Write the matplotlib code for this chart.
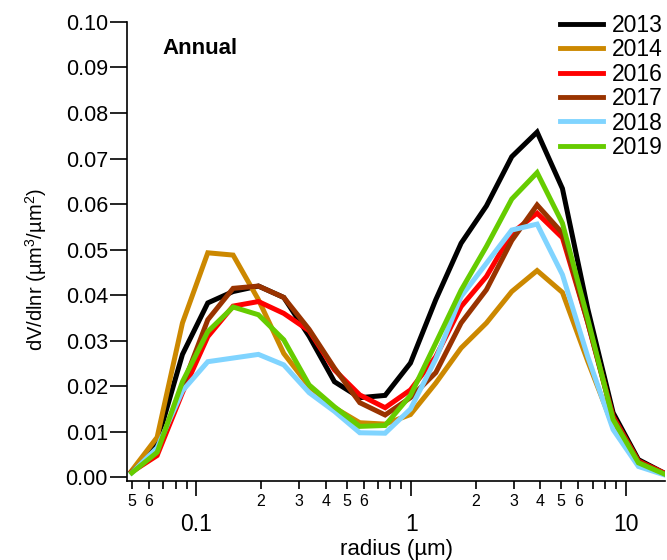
import numpy as np
import matplotlib
matplotlib.use("Agg")
import matplotlib.pyplot as plt
from matplotlib.ticker import FixedLocator, FixedFormatter

plt.rcParams['font.family'] = ['Liberation Sans', 'DejaVu Sans']
plt.rcParams['mathtext.fontset'] = 'custom'
plt.rcParams['mathtext.rm'] = 'Liberation Sans'
plt.rcParams['mathtext.it'] = 'Liberation Sans:italic'

radius = [0.05, 0.065604, 0.086077, 0.112939, 0.148184, 0.194429, 0.255105,
          0.334716, 0.439173, 0.576227, 0.756052, 0.991996, 1.301571, 1.707757,
          2.240702, 2.939966, 3.857452, 5.061260, 6.640745, 8.713145,
          11.432287, 15.0]

y2013 = [0.0013, 0.0078, 0.0270, 0.0383, 0.0408, 0.0420, 0.0395, 0.0310,
         0.0210, 0.0175, 0.0180, 0.0251, 0.0390, 0.0514, 0.0596, 0.0704,
         0.0758, 0.0634, 0.0370, 0.0142, 0.0039, 0.0010]
y2014 = [0.0015, 0.0088, 0.0339, 0.0493, 0.0488, 0.0390, 0.0272, 0.0200,
         0.0153, 0.0120, 0.0117, 0.0138, 0.0207, 0.0284, 0.0339, 0.0408,
         0.0454, 0.0406, 0.0255, 0.0112, 0.0028, 0.0008]
y2016 = [0.0012, 0.0048, 0.0186, 0.0309, 0.0376, 0.0386, 0.0360, 0.0322,
         0.0236, 0.0181, 0.0153, 0.0192, 0.0265, 0.0375, 0.0441, 0.0536,
         0.0580, 0.0526, 0.0340, 0.0134, 0.0036, 0.0010]
y2017 = [0.0012, 0.0060, 0.0200, 0.0346, 0.0415, 0.0420, 0.0395, 0.0325,
         0.0240, 0.0164, 0.0137, 0.0175, 0.0230, 0.0339, 0.0412, 0.0520,
         0.0598, 0.0536, 0.0340, 0.0130, 0.0034, 0.0008]
y2018 = [0.0010, 0.0065, 0.0190, 0.0254, 0.0262, 0.0270, 0.0247, 0.0186,
         0.0145, 0.0098, 0.0097, 0.0150, 0.0260, 0.0397, 0.0470, 0.0543,
         0.0556, 0.0445, 0.0265, 0.0105, 0.0024, 0.0006]
y2019 = [0.0010, 0.0055, 0.0210, 0.0320, 0.0374, 0.0357, 0.0302, 0.0203,
         0.0155, 0.0112, 0.0114, 0.0180, 0.0295, 0.0411, 0.0507, 0.0611,
         0.0669, 0.0558, 0.0348, 0.0127, 0.0032, 0.0008]

years = ['2013', '2014', '2016', '2017', '2018', '2019']
series = [y2013, y2014, y2016, y2017, y2018, y2019]
colors = ['#000000', '#CC8800', '#FF0000', '#993300', '#80D4FF', '#66CC00']

fig = plt.figure(figsize=(6.67, 5.6), dpi=100)
ax = fig.add_axes([0.191, 0.141, 0.806, 0.820])

for yr, ys, c in zip(years, series, colors):
    ax.plot(radius, ys, color=c, lw=3.6, label=yr, solid_joinstyle='miter')

ax.set_xscale('log')
ax.set_xlim(0.0477, 15.2)
ax.set_ylim(-0.0008, 0.1)

ax.spines['top'].set_visible(False)
ax.spines['right'].set_visible(False)
ax.spines['left'].set_linewidth(1.2)
ax.spines['bottom'].set_linewidth(1.2)

yt = np.arange(0, 0.1001, 0.01)
ax.set_yticks(yt)
ax.set_yticklabels(['%.2f' % v for v in yt])
ax.tick_params(axis='y', direction='out', length=12, width=1.2, pad=2,
               labelsize=15.5)

major = [0.1, 1, 10]
ax.xaxis.set_major_locator(FixedLocator(major))
ax.xaxis.set_major_formatter(FixedFormatter(['0.1', '1', '10']))
minor = []
minor_lab = []
for dec in [0.01, 0.1, 1]:
    for s in range(2, 10):
        v = s * dec
        if 0.0477 <= v <= 15.2:
            minor.append(v)
            minor_lab.append(str(s) if s <= 6 else '')
ax.xaxis.set_minor_locator(FixedLocator(minor))
ax.xaxis.set_minor_formatter(FixedFormatter(minor_lab))
ax.tick_params(axis='x', which='major', direction='out', length=11, width=1.2,
               pad=12, labelsize=16.5)
ax.tick_params(axis='x', which='minor', direction='out', length=5.5, width=1.2,
               pad=4, labelsize=11.5)

ax.set_xlabel('radius (µm)', fontsize=16, labelpad=2)
ax.set_ylabel(r'dV/dlnr (µm$^3$/µm$^2$)', fontsize=14.5)
ax.yaxis.set_label_coords(-0.145, 0.46)

ax.text(0.065, 0.943, 'Annual', transform=ax.transAxes, fontsize=16,
        fontweight='bold', va='center', ha='left')

leg = fig.legend(*ax.get_legend_handles_labels(), loc='upper right',
                 bbox_to_anchor=(663 / 667, 1 - 14 / 560),
                 bbox_transform=fig.transFigure, frameon=False,
                 fontsize=16.5, handlelength=1.87, handletextpad=0.4,
                 labelspacing=0.06, borderaxespad=0, borderpad=0)
for h in leg.get_lines():
    h.set_linewidth(3.5)

fig.savefig('out.png', dpi=100)
